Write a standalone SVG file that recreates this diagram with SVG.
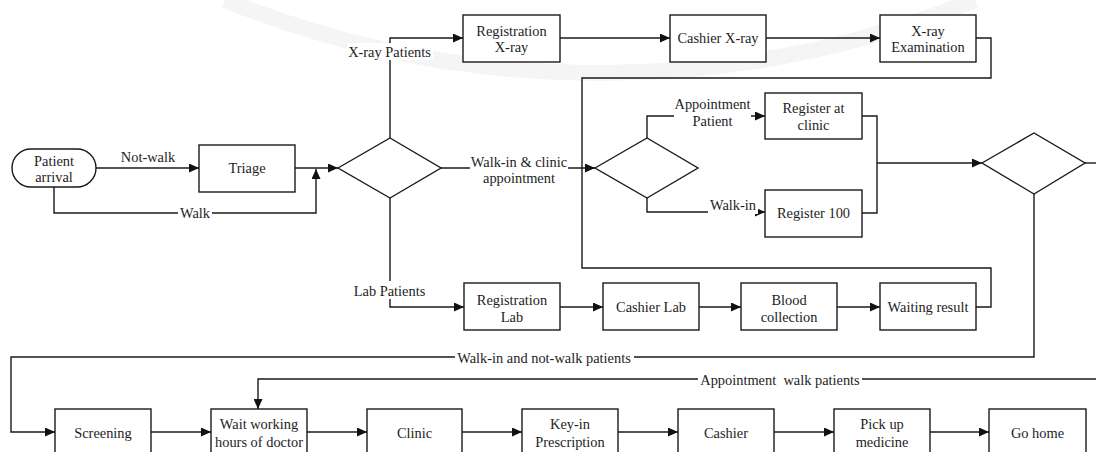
<svg xmlns="http://www.w3.org/2000/svg" width="1096" height="452" viewBox="0 0 1096 452">
  <defs>
    <marker id="arrow" markerUnits="userSpaceOnUse" markerWidth="10" markerHeight="9" refX="10" refY="4.5" orient="auto">
      <path d="M0,0 L10,4.5 L0,9 z" fill="#111"/>
    </marker>
    <style>
      .box { fill: #fff; stroke: #1a1a1a; stroke-width: 1.4; }
      .wire { fill: none; stroke: #1a1a1a; stroke-width: 1.4; }
      .arr { marker-end: url(#arrow); }
      .mask { fill: #fff; stroke: none; }
      text { font-family: "Liberation Serif", "DejaVu Serif", serif; font-size: 14.4px; fill: #1e1e1e; text-anchor: middle; }
    </style>
  </defs>

  <rect width="1096" height="452" fill="#fff"/>
  <!-- faint background ring -->
  <path d="M225,0 A1000,1000 0 0 0 975,0" fill="none" stroke="#f5f5f5" stroke-width="16"/>

  <g id="connectors">
    <path class="wire arr" d="M96,168 H199"/>
    <path class="wire arr" d="M54,187 V213 H316 V169"/>
    <path class="wire arr" d="M295,168 H338"/>
    <path class="wire arr" d="M390,138 V38 H463"/>
    <path class="wire arr" d="M560,38 H670"/>
    <path class="wire arr" d="M766,38 H880"/>
    <path class="wire" d="M976,38 H991 V78 H582 V268 H991 V307 H976"/>
    <path class="wire arr" d="M441,168 H595"/>
    <path class="wire arr" d="M647,138 V116 H765"/>
    <path class="wire arr" d="M647,198 V212 H765"/>
    <path class="wire" d="M862,116 H877 V213 H862"/>
    <path class="wire arr" d="M877,163 H982"/>
    <path class="wire" d="M1085,163 H1096"/>
    <path class="wire arr" d="M1034,194 V357 H11 V432 H55"/>
    <path class="wire arr" d="M1096,379 H258 V409"/>
    <path class="wire arr" d="M390,198 V307 H464"/>
    <path class="wire arr" d="M560,307 H603"/>
    <path class="wire arr" d="M699,307 H741"/>
    <path class="wire arr" d="M837,307 H880"/>
    <path class="wire arr" d="M151,432 H211"/>
    <path class="wire arr" d="M307,432 H367"/>
    <path class="wire arr" d="M462,432 H522"/>
    <path class="wire arr" d="M618,432 H678"/>
    <path class="wire arr" d="M774,432 H834"/>
    <path class="wire arr" d="M930,432 H989"/>

    <!-- connector labels -->
    <text x="148" y="162">Not-walk</text>
    <rect class="mask" x="178" y="206" width="34" height="15"/>
    <text x="195" y="218">Walk</text>
    <rect class="mask" x="347" y="43" width="86" height="17"/>
    <text x="389.5" y="57">X-ray Patients</text>
    <rect class="mask" x="470" y="153" width="98" height="33"/>
    <text x="519" y="167">Walk-in &amp; clinic</text>
    <text x="519" y="183">appointment</text>
    <rect class="mask" x="674" y="96" width="77" height="32"/>
    <text x="712.5" y="109">Appointment</text>
    <text x="712.5" y="126">Patient</text>
    <rect class="mask" x="708" y="197" width="50" height="17"/>
    <text x="733" y="210">Walk-in</text>
    <rect class="mask" x="352" y="281" width="75" height="18"/>
    <text x="389.5" y="296">Lab Patients</text>
    <rect class="mask" x="455" y="350" width="179" height="16"/>
    <text x="544" y="363">Walk-in and not-walk patients</text>
    <rect class="mask" x="698" y="372" width="164" height="16"/>
    <text x="780" y="385" xml:space="preserve">Appointment  walk patients</text>
  </g>

  <g id="patient-arrival">
    <rect class="box" x="12" y="149" width="84" height="38" rx="19"/>
    <text x="54" y="166">Patient</text>
    <text x="54" y="182">arrival</text>
  </g>
  <g id="triage">
    <rect class="box" x="199" y="145" width="96" height="47"/>
    <text x="247" y="173">Triage</text>
  </g>
  <g id="decision-patient-type">
    <polygon class="box" points="338,168 390,138 441,168 390,198"/>
  </g>
  <g id="registration-xray">
    <rect class="box" x="463" y="15" width="97" height="47"/>
    <text x="511.5" y="36">Registration</text>
    <text x="511.5" y="52">X-ray</text>
  </g>
  <g id="cashier-xray">
    <rect class="box" x="670" y="15" width="96" height="47"/>
    <text x="718" y="43">Cashier X-ray</text>
  </g>
  <g id="xray-examination">
    <rect class="box" x="880" y="15" width="96" height="47"/>
    <text x="928" y="36">X-ray</text>
    <text x="928" y="52">Examination</text>
  </g>
  <g id="decision-appointment">
    <polygon class="box" points="595,168 647,138 698,168 647,198"/>
  </g>
  <g id="register-at-clinic">
    <rect class="box" x="765" y="93" width="97" height="46"/>
    <text x="813.5" y="113">Register at</text>
    <text x="813.5" y="130">clinic</text>
  </g>
  <g id="register-100">
    <rect class="box" x="765" y="190" width="97" height="47"/>
    <text x="813.5" y="218">Register 100</text>
  </g>
  <g id="decision-route">
    <polygon class="box" points="982,163 1034,133 1085,163 1034,194"/>
  </g>
  <g id="registration-lab">
    <rect class="box" x="464" y="283" width="96" height="47"/>
    <text x="512" y="305">Registration</text>
    <text x="512" y="322">Lab</text>
  </g>
  <g id="cashier-lab">
    <rect class="box" x="603" y="283" width="96" height="47"/>
    <text x="651" y="312">Cashier Lab</text>
  </g>
  <g id="blood-collection">
    <rect class="box" x="741" y="283" width="96" height="47"/>
    <text x="789" y="305">Blood</text>
    <text x="789" y="322">collection</text>
  </g>
  <g id="waiting-result">
    <rect class="box" x="880" y="283" width="96" height="47"/>
    <text x="928" y="312">Waiting result</text>
  </g>
  <g id="screening">
    <rect class="box" x="55" y="409" width="96" height="48"/>
    <text x="103" y="438">Screening</text>
  </g>
  <g id="wait-working-hours">
    <rect class="box" x="211" y="409" width="96" height="48"/>
    <text x="259" y="429">Wait working</text>
    <text x="259" y="447">hours of doctor</text>
  </g>
  <g id="clinic">
    <rect class="box" x="367" y="409" width="95" height="48"/>
    <text x="414.5" y="438">Clinic</text>
  </g>
  <g id="key-in-prescription">
    <rect class="box" x="522" y="409" width="96" height="48"/>
    <text x="570" y="429">Key-in</text>
    <text x="570" y="447">Prescription</text>
  </g>
  <g id="cashier">
    <rect class="box" x="678" y="409" width="96" height="48"/>
    <text x="726" y="438">Cashier</text>
  </g>
  <g id="pick-up-medicine">
    <rect class="box" x="834" y="409" width="96" height="48"/>
    <text x="882" y="429">Pick up</text>
    <text x="882" y="447">medicine</text>
  </g>
  <g id="go-home">
    <rect class="box" x="989" y="409" width="97" height="48"/>
    <text x="1037.5" y="438">Go home</text>
  </g>
</svg>
